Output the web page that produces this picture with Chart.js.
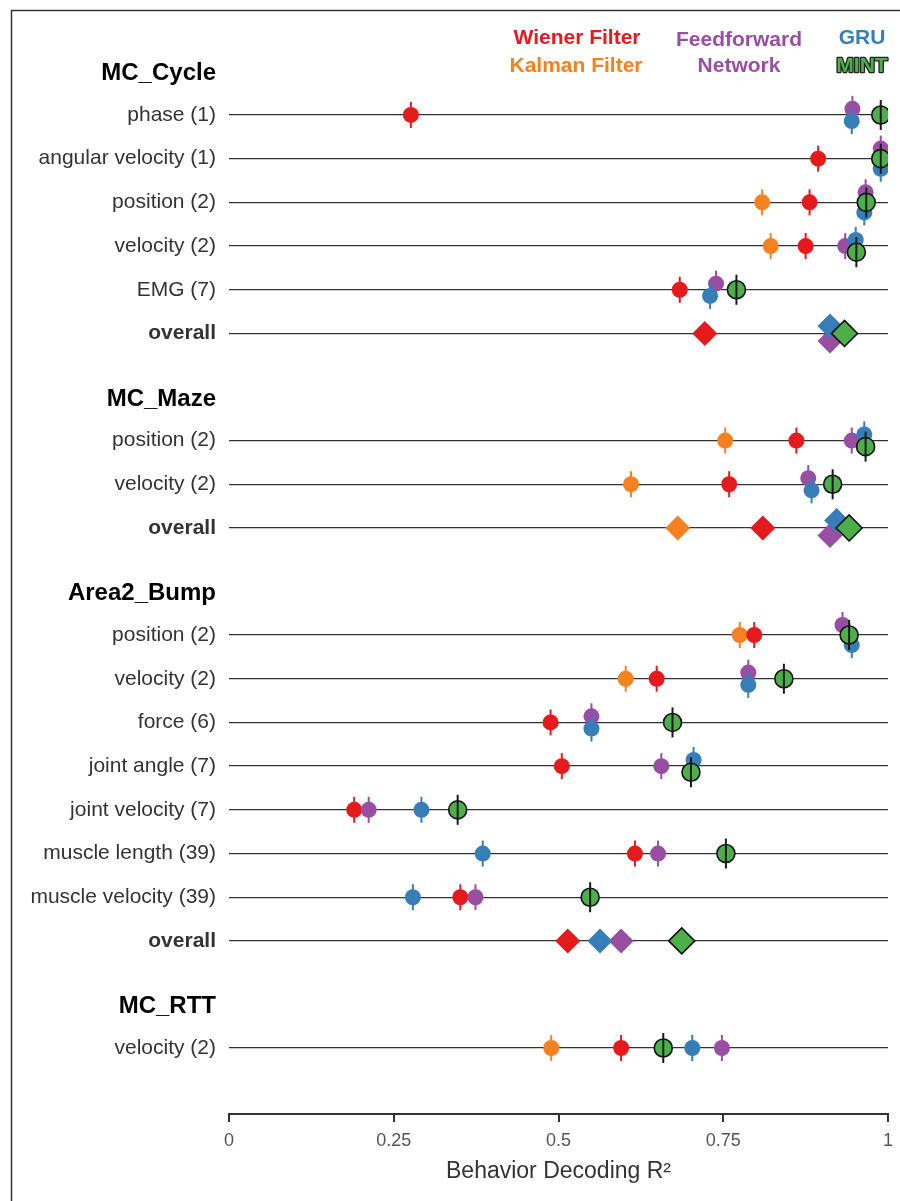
<!DOCTYPE html>
<html>
<head>
<meta charset="utf-8">
<script src="https://cdn.jsdelivr.net/npm/chart.js@4.4.1/dist/chart.umd.min.js"></script>
<style>
  html, body { margin: 0; padding: 0; background: #fff; }
  #wrap { width: 900px; height: 1201px; position: relative; }
</style>
</head>
<body>
<div id="wrap"><canvas id="decodeChart"></canvas></div>
<script>
// datasets (groups) and their rows
const groups = ['MC_Cycle', 'MC_Maze', 'Area2_Bump', 'MC_RTT'];
const rowLabels = [
  'phase (1)', 'angular velocity (1)', 'position (2)', 'velocity (2)', 'EMG (7)', 'overall',
  'position (2)', 'velocity (2)', 'overall',
  'position (2)', 'velocity (2)', 'force (6)', 'joint angle (7)', 'joint velocity (7)',
  'muscle length (39)', 'muscle velocity (39)', 'overall',
  'velocity (2)'
];
const rowGroup = [0, 0, 0, 0, 0, 0, 1, 1, 1, 2, 2, 2, 2, 2, 2, 2, 2, 3];
const xTicks = [0, 0.25, 0.5, 0.75, 1];

// R^2 per row, one array per decoder (null = not shown)
const wiener = [0.276, 0.894, 0.881, 0.875, 0.684, 0.722, 0.861, 0.759, 0.810, 0.797, 0.649, 0.488, 0.505, 0.190, 0.616, 0.351, 0.514, 0.595];
const kalman = [null, null, 0.809, 0.822, null, null, 0.753, 0.610, 0.681, 0.775, 0.602, null, null, null, null, null, null, 0.489];
const feedforward = [0.946, 0.989, 0.966, 0.935, 0.739, 0.912, 0.945, 0.879, 0.912, 0.931, 0.788, 0.550, 0.656, 0.212, 0.651, 0.374, 0.595, 0.748];
const gru = [0.945, 0.989, 0.964, 0.951, 0.730, 0.912, 0.964, 0.884, 0.922, 0.945, 0.788, 0.550, 0.705, 0.292, 0.385, 0.279, 0.563, 0.703];
const mint = [0.989, 0.989, 0.967, 0.952, 0.770, 0.934, 0.966, 0.916, 0.941, 0.941, 0.842, 0.673, 0.701, 0.347, 0.754, 0.548, 0.687, 0.659];

const series = [
  { key: 'kalman', name: 'Kalman Filter', values: kalman, color: '#f68121' },
  { key: 'wiener', name: 'Wiener Filter', values: wiener, color: '#e41a1c' },
  { key: 'ff', name: 'Feedforward\nNetwork', values: feedforward, color: '#984ea3' },
  { key: 'gru', name: 'GRU', values: gru, color: '#377eb8' },
  { key: 'mint', name: 'MINT', values: mint, color: '#4daf4a' }
];

// row positions on the y scale: a header, its rows, then a gap
const rowY = [];
const tickRows = [];
let yPos = 0;
groups.forEach((g, gi) => {
  tickRows.push({ y: yPos, label: g, kind: 'header' });
  let first = true;
  rowLabels.forEach((lab, i) => {
    if (rowGroup[i] !== gi) return;
    yPos += first ? 0.95 : 1;
    first = false;
    rowY[i] = yPos;
    tickRows.push({ y: yPos, label: lab, kind: lab === 'overall' ? 'overall' : 'row' });
  });
  yPos += 1.5;
});

// small vertical dodge for markers that sit on top of each other
function dodge(i) {
  const isOverall = rowLabels[i] === 'overall';
  const prio = isOverall ? ['gru', 'ff', 'mint', 'wiener', 'kalman'] : ['ff', 'gru', 'mint', 'wiener', 'kalman'];
  const pts = series.filter(s => s.values[i] != null)
    .map(s => ({ key: s.key, v: s.values[i] }))
    .sort((a, b) => a.v - b.v);
  const clusters = [];
  pts.forEach(p => {
    const last = clusters[clusters.length - 1];
    if (last && p.v - last[last.length - 1].v <= 0.012) last.push(p);
    else clusters.push([p]);
  });
  const off = {};
  clusters.forEach(c => {
    c.sort((a, b) => prio.indexOf(a.key) - prio.indexOf(b.key));
    if (c.length === 3) {
      const m = c.findIndex(p => p.key === 'mint');
      if (m >= 0) c.splice(1, 0, c.splice(m, 1)[0]);
    }
    const step = c.length > 2 ? 0.23 : (isOverall ? 0.17 : 0.14);
    const mult = c.length > 2 ? 1 : 2;
    c.forEach((p, k) => { off[p.key] = (k - (c.length - 1) / 2) * step * mult; });
  });
  return off;
}
const offsets = rowLabels.map((_, i) => dodge(i));

const datasets = [];
series.forEach(s => {
  const pts = [];
  s.values.forEach((v, i) => {
    if (v == null) return;
    pts.push({ x: v, y: rowY[i] + offsets[i][s.key], overall: rowLabels[i] === 'overall' });
  });
  const isMint = s.key === 'mint';
  const bars = {
    data: pts.filter(p => !p.overall),
    pointStyle: 'line',
    pointRotation: 90,
    pointRadius: isMint ? 15 : 13,
    borderColor: isMint ? '#1a1a1a' : s.color,
    pointBorderWidth: 2,
    pointHoverRadius: 0
  };
  const marks = {
    data: pts,
    pointStyle: ctx => (ctx.raw && ctx.raw.overall ? 'rectRot' : 'circle'),
    pointRadius: ctx => (ctx.raw && ctx.raw.overall ? (isMint ? 13 : 12.5) : (isMint ? 9 : 8)),
    backgroundColor: s.color,
    borderColor: isMint ? '#111' : s.color,
    pointBorderWidth: isMint ? 1.6 : 0
  };
  if (isMint) datasets.push(marks, bars);
  else datasets.push(bars, marks);
});
// first dataset is drawn last in Chart.js, so give later ones a lower order
datasets.forEach((d, k) => { d.order = datasets.length - k; });

const FONT = "'Liberation Sans', Arial, Helvetica, sans-serif";

const framePlugin = {
  id: 'frame',
  beforeDraw(chart) {
    const ctx = chart.ctx;
    ctx.save();
    ctx.strokeStyle = '#333';
    ctx.lineWidth = 1.5;
    ctx.beginPath();
    ctx.moveTo(11.5, chart.height);
    ctx.lineTo(11.5, 10.5);
    ctx.lineTo(chart.width, 10.5);
    ctx.stroke();
    ctx.restore();
  }
};

const legendPlugin = {
  id: 'textLegend',
  afterDraw(chart) {
    const ctx = chart.ctx;
    const spots = { wiener: [577, 38], kalman: [576, 66], ff: [739, 40], gru: [862, 38], mint: [862, 66] };
    ctx.save();
    ctx.font = 'bold 21px ' + FONT;
    ctx.textAlign = 'center';
    ctx.textBaseline = 'middle';
    ctx.lineJoin = 'round';
    series.forEach(s => {
      const [x, y] = spots[s.key];
      s.name.split('\n').forEach((line, li) => {
        const ly = y + li * 26;
        if (s.key === 'mint') {
          ctx.lineWidth = 2.6;
          ctx.strokeStyle = '#222';
          ctx.strokeText(line, x, ly);
        }
        ctx.fillStyle = s.color;
        ctx.fillText(line, x, ly);
      });
    });
    ctx.restore();
  }
};

new Chart(document.getElementById('decodeChart'), {
  type: 'scatter',
  data: { datasets },
  options: {
    responsive: true,
    maintainAspectRatio: false,
    animation: false,
    events: [],
    layout: { autoPadding: false, padding: { top: 28, right: 12, left: 0, bottom: 0 } },
    plugins: { legend: { display: false }, tooltip: { enabled: false } },
    scales: {
      x: {
        type: 'linear',
        min: 0,
        max: 1,
        afterBuildTicks: scale => { scale.ticks = xTicks.map(v => ({ value: v })); },
        afterFit: scale => {
          scale.height = 87;
          scale.paddingLeft = 0;
          scale.paddingRight = 0;
        },
        grid: { drawOnChartArea: false, drawTicks: true, tickLength: 8, color: '#333', lineWidth: 2 },
        border: { display: true, color: '#333', width: 2 },
        ticks: { color: '#555', font: { family: FONT, size: 18 }, padding: 8, callback: v => String(v) },
        title: {
          display: true,
          text: 'Behavior Decoding R²',
          color: '#333',
          font: { family: FONT, size: 23 },
          padding: { top: 0, bottom: 16 }
        }
      },
      y: {
        type: 'linear',
        reverse: true,
        min: -1.04,
        max: 23.81,
        afterBuildTicks: scale => { scale.ticks = tickRows.map(t => ({ value: t.y })); },
        afterFit: scale => { scale.width = 229; },
        border: { display: false },
        grid: {
          drawTicks: false,
          color: ctx => (tickRows[ctx.index] && tickRows[ctx.index].kind !== 'header' ? '#333' : 'rgba(0,0,0,0)'),
          lineWidth: 1.3
        },
        ticks: {
          autoSkip: false,
          padding: 13,
          color: ctx => (tickRows[ctx.index] && tickRows[ctx.index].kind === 'header' ? '#000' : '#333'),
          font: ctx => {
            const kind = tickRows[ctx.index] ? tickRows[ctx.index].kind : 'row';
            if (kind === 'header') return { family: FONT, size: 24, weight: 'bold' };
            if (kind === 'overall') return { family: FONT, size: 21, weight: 'bold' };
            return { family: FONT, size: 21 };
          },
          callback: (v, i) => (tickRows[i] ? tickRows[i].label : '')
        }
      }
    }
  },
  plugins: [framePlugin, legendPlugin]
});
</script>
</body>
</html>
